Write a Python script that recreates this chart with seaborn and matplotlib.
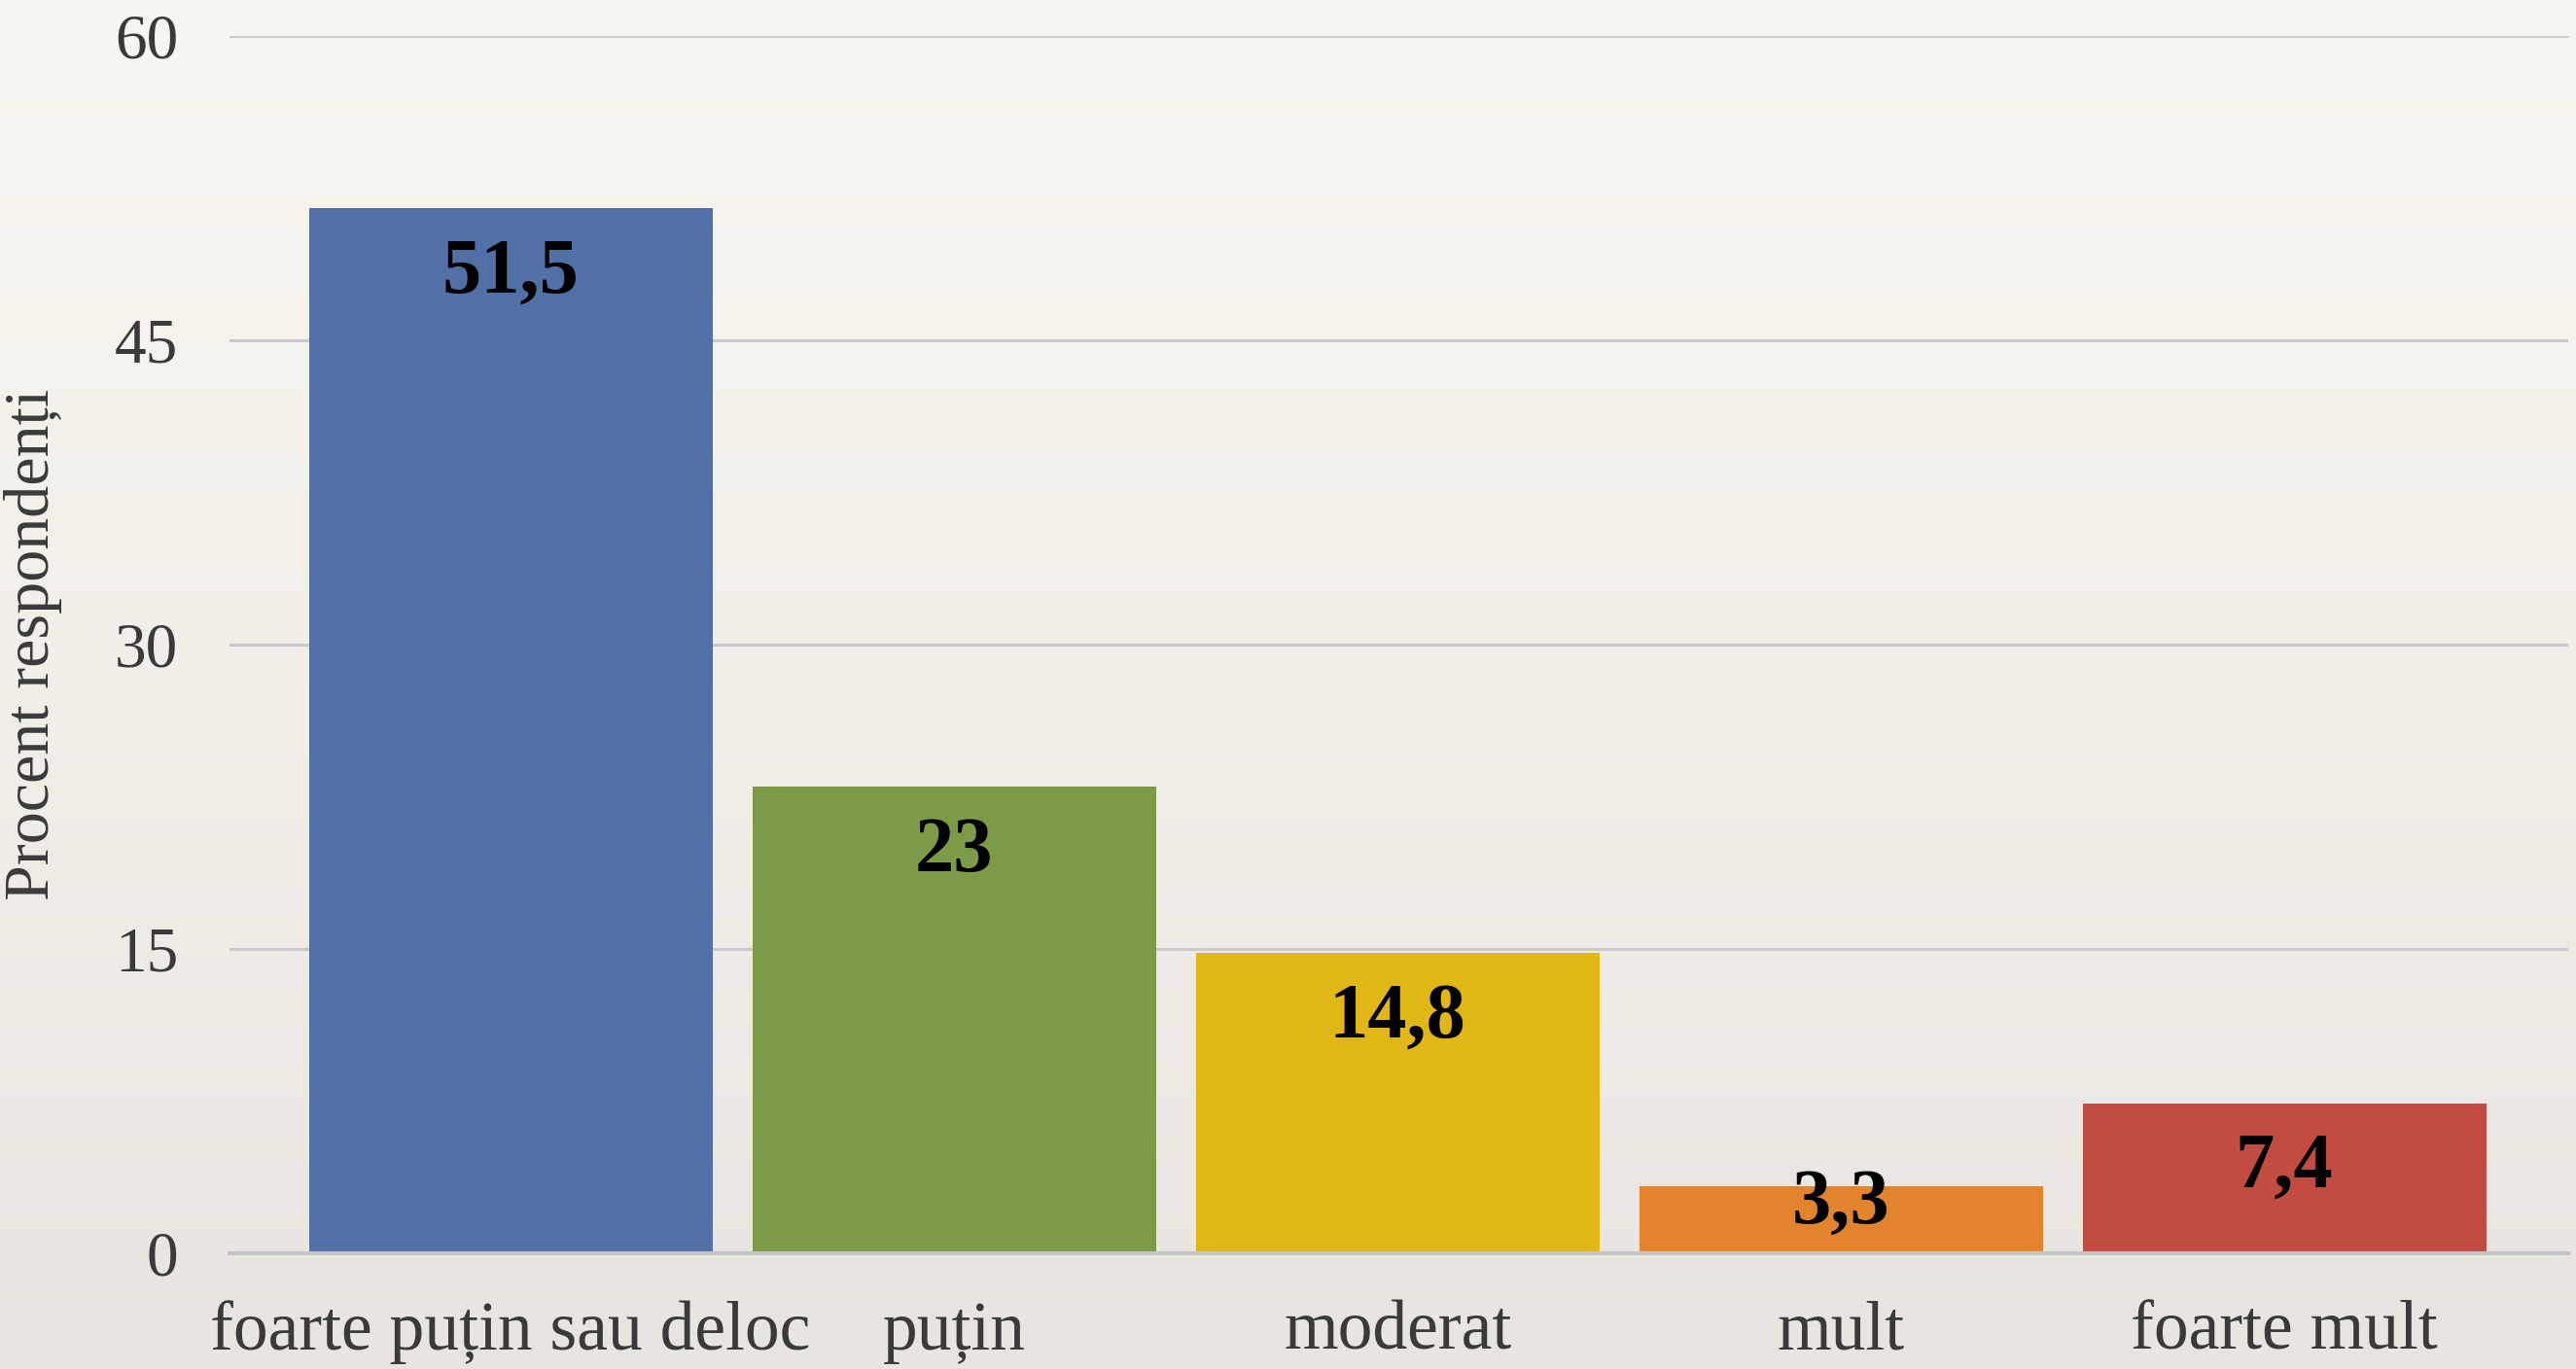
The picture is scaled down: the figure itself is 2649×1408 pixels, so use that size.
import numpy as np
import pandas as pd
import matplotlib
matplotlib.use("Agg")
import matplotlib.pyplot as plt
import seaborn as sns
from matplotlib.colors import LinearSegmentedColormap

categories = ["foarte puțin sau deloc", "puțin", "moderat", "mult", "foarte mult"]
values = [51.5, 23, 14.8, 3.3, 7.4]
value_labels = ["51,5", "23", "14,8", "3,3", "7,4"]
bar_colors = ["#5170a6", "#7c9a47", "#e1b617", "#e2842d", "#c24c41"]
y_ticks = [0, 15, 30, 45, 60]
y_label = "Procent respondenți"

sns.set_theme(style="white")
plt.rcParams["font.family"] = ["Liberation Serif", "DejaVu Serif"]

W, H, DPI = 2649, 1408, 100
fig = plt.figure(figsize=(W / DPI, H / DPI), dpi=DPI)

# background gradient (paper-like)
bg = fig.add_axes([0, 0, 1, 1], zorder=-10)
grad = np.linspace(0, 1, 256).reshape(-1, 1)
cmap = LinearSegmentedColormap.from_list("bg", ["#f8f6f0", "#f2efe9", "#e8e5e0"])
bg.imshow(grad, aspect="auto", cmap=cmap, extent=[0, 1, 0, 1], origin="upper")
bg.set_axis_off()

ax = fig.add_axes([236 / W, 1 - 1289 / H, (2641 - 236) / W, (1289 - 37) / H])
ax.set_facecolor("none")

df = pd.DataFrame({"cat": categories, "val": values})
sns.barplot(data=df, x="cat", y="val", hue="cat", palette=bar_colors,
            order=categories, hue_order=categories, legend=False,
            width=0.91, saturation=1, ax=ax, zorder=3, linewidth=0)

ax.set_ylim(0, 60)
ax.set_xlim(-0.634, 4.64)
ax.set_yticks(y_ticks)
ax.set_yticklabels([str(t) for t in y_ticks])
ax.yaxis.grid(True, color="#c9c9c9", linewidth=2.2, zorder=0)
ax.set_axisbelow(True)
for s in ["top", "right", "left"]:
    ax.spines[s].set_visible(False)
ax.spines["bottom"].set_color("#c4c4c4")
ax.spines["bottom"].set_linewidth(3)
ax.spines["bottom"].set_zorder(4)

ax.tick_params(axis="y", length=0, pad=38, labelsize=47, labelcolor="#3a3a3a")
ax.tick_params(axis="x", length=0, pad=35, labelsize=51.5, labelcolor="#3a3a3a")
ax.set_xlabel("")
ax.set_ylabel(y_label, fontsize=47.5, color="#3a3a3a")
ax.yaxis.set_label_coords(-0.0715, 0.5)

# value labels inside bar tops
unit_px = (1289 - 37) / 60.0
for i, (v, lab) in enumerate(zip(values, value_labels)):
    ypos = max(v - 67 / unit_px, 51 / unit_px)
    ax.text(i, ypos, lab, ha="center", va="center", fontsize=58,
            fontweight="bold", color="black", zorder=5)

fig.savefig("out.png", dpi=DPI)
